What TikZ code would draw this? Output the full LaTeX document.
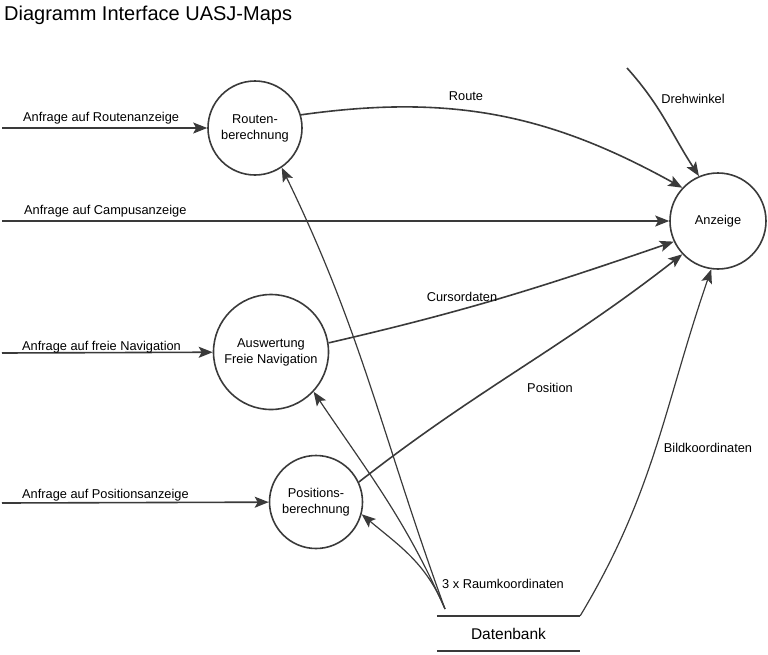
\documentclass[tikz,border=0pt]{standalone}
\usepackage{fontspec}
\setmainfont{Liberation Sans}
\usetikzlibrary{arrows.meta}

\begin{document}
\begin{tikzpicture}[
  x=1pt, y=1pt,
  proc/.style={draw=linegray, circle, line width=1.6pt, align=center, font=\fontsize{12.8}{16}\selectfont, inner sep=0pt},
  lbl/.style={font=\fontsize{12.8}{15}\selectfont, inner sep=0pt},
  arr/.style={-{Stealth[length=14pt,width=11pt,inset=3pt]}, draw=linegray, line width=1.6pt},
  thinarr/.style={arr, line width=1.2pt}
]
\definecolor{linegray}{HTML}{3A3A3A}
\useasboundingbox (0,0) rectangle (768,-654);

\node[anchor=west, font=\fontsize{20}{22}\selectfont, inner sep=0pt] (title) at (4,-15) {Diagramm Interface UASJ-Maps};

% processes
\node[proc, minimum size=94pt] (rb) at (255,-128) {Routen-\\berechnung};
\node[proc, minimum size=96pt] (anz) at (718,-221) {Anzeige};
\node[proc, minimum size=115pt] (an) at (271,-352) {Auswertung\\Freie Navigation};
\node[proc, minimum size=93pt] (pb) at (316,-502) {Positions-\\berechnung};

% data store
\node[font=\fontsize{15.5}{18}\selectfont, minimum width=143pt, minimum height=35pt, inner sep=0pt] (db) at (508.5,-633.5) {Datenbank};
\draw[linegray, line width=1.5pt] (db.north west) -- (db.north east);
\draw[linegray, line width=1.5pt] (db.south west) -- (db.south east);

% free ends
\coordinate (rin) at (2,-128);
\coordinate (cin) at (2,-221);
\coordinate (nin) at (2,-353);
\coordinate (pin) at (2,-503);
\coordinate (dw) at (627,-68);
\coordinate (rk) at (445,-609);

% inputs from the left
\draw[arr] (rin) -- (rb);
\draw[arr] (cin) -- (anz);
\draw[arr] (nin) -- (an);
\draw[arr] (pin) -- (pb);
\node[lbl, anchor=west] (lrin) at (23,-118) {Anfrage auf Routenanzeige};
\node[lbl, anchor=west] (lcin) at (24,-211) {Anfrage auf Campusanzeige};
\node[lbl, anchor=west] (lnin) at (22,-347) {Anfrage auf freie Navigation};
\node[lbl, anchor=west] (lpin) at (22,-495) {Anfrage auf Positionsanzeige};

% flows into Anzeige
\draw[arr] (rb.16) to[out=8,in=151] (anz.137);
\draw[arr] (dw) to[out=-48,in=123] (anz.113);
\draw[arr] (an.9) to[out=13,in=199] (anz.205);
\draw[arr] (pb.25) to[out=38,in=218] (anz.223);
\draw[thinarr] (db.north east) to[out=59,in=251] (anz.262);
\node[lbl] (lroute) at (466,-96) {Route};
\node[lbl] (ldw) at (693,-99) {Drehwinkel};
\node[lbl] (lcur) at (462,-297) {Cursordaten};
\node[lbl] (lpos) at (550,-388) {Position};
\node[lbl] (lbild) at (708,-448) {Bildkoordinaten};

% room coordinates from the data store
\draw[thinarr] (rk) to[out=110,in=-64] (rb.304);
\draw[thinarr] (rk) to[out=114,in=-56] (an.317);
\draw[thinarr] (rk) to[out=112,in=-40] (pb.345);
\node[lbl] (lrk) at (503,-584) {3 x Raumkoordinaten};
\end{tikzpicture}
\end{document}
